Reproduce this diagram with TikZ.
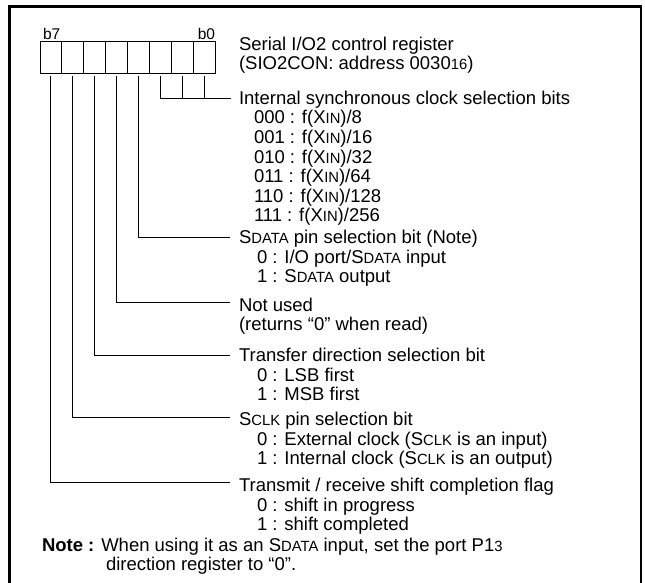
\documentclass[tikz,border=0pt]{standalone}
\usepackage{fontspec}
\setmainfont{Liberation Sans}
\usetikzlibrary{calc}
\newcommand{\sm}[1]{{\fontsize{14.8}{14.8}\selectfont #1}}
\begin{document}
\begin{tikzpicture}[x=1pt,y=-1pt,
  txt/.style={anchor=base west, inner sep=0pt, outer sep=0pt, font=\fontsize{18.5}{19.5}\selectfont},
  bitlbl/.style={inner sep=0pt, outer sep=0pt, font=\fontsize{15.5}{15.5}\selectfont},
  cell/.style={draw, line width=0.9pt, minimum width=21.875pt, minimum height=32pt, inner sep=0pt, outer sep=0pt},
  lead/.style={line width=0.9pt}]
\useasboundingbox (0,0) rectangle (645,583);
\draw[line width=2.6pt] (9.5,600) -- (9.5,6.7) -- (641,6.7) -- (641,600);
% register cells
\foreach \i in {0,...,7} {
  \node[cell] (c\i) at ({40+21.875*(7-\i+0.5)},57) {};
}
\node[bitlbl, anchor=base west] (lb7) at (43,40) {b7};
\node[bitlbl, anchor=base east] (lb0) at (215,40) {b0};
% title
\node[txt] (t1) at (239,50.5) {Serial I/O2 control register};
\node[txt] (t2) at (239,70) {(SIO2CON: address 0030\sm{16})};
% clock selection
\node[txt] (h0) at (239,104.5) {Internal synchronous clock selection bits};
\node[txt] (s01) at (254,124) {000 : f(X\sm{IN})/8};
\node[txt] (s02) at (254,143.5) {001 : f(X\sm{IN})/16};
\node[txt] (s03) at (254,163) {010 : f(X\sm{IN})/32};
\node[txt] (s04) at (254,182.5) {011 : f(X\sm{IN})/64};
\node[txt] (s05) at (254,202) {110 : f(X\sm{IN})/128};
\node[txt] (s06) at (254,221.5) {111 : f(X\sm{IN})/256};
% SDATA
\node[txt] (h3) at (239,243.5) {S\sm{DATA} pin selection bit (Note)};
\node[txt] (s31) at (257,263) {0 : I/O port/S\sm{DATA} input};
\node[txt] (s32) at (257,282.5) {1 : S\sm{DATA} output};
% not used
\node[txt] (h4) at (239,311.5) {Not used};
\node[txt] (s41) at (239,330) {(returns “0” when read)};
% transfer direction
\node[txt] (h5) at (239,361.5) {Transfer direction selection bit};
\node[txt] (s51) at (257,381) {0 : LSB first};
\node[txt] (s52) at (257,400.5) {1 : MSB first};
% SCLK
\node[txt] (h6) at (239,425.5) {S\sm{CLK} pin selection bit};
\node[txt] (s61) at (257,445) {0 : External clock (S\sm{CLK} is an input)};
\node[txt] (s62) at (257,464.5) {1 : Internal clock (S\sm{CLK} is an output)};
% shift flag
\node[txt] (h7) at (239,491.5) {Transmit / receive shift completion flag};
\node[txt] (s71) at (257,511) {0 : shift in progress};
\node[txt] (s72) at (257,530.5) {1 : shift completed};
% note
\node[txt] (n1) at (42,551.5) {{\bfseries Note :} When using it as an S\sm{DATA} input, set the port P1\sm{3}};
\node[txt] (n2) at (106,570) {direction register to “0”.};
% leader end points
\coordinate (e0) at (231,98);
\coordinate (e3) at (230,237);
\coordinate (e4) at (230,302);
\coordinate (e5) at (230,355);
\coordinate (e6) at (230,417);
\coordinate (e7) at (230,482);
% leaders
\draw[lead] ($(c2.south)+(0,3)$) |- (e0);
\draw[lead] ($(c1.south)+(0,3)$) -- (c1.south |- e0);
\draw[lead] ($(c0.south)+(0,3)$) -- (c0.south |- e0);
\foreach \i in {3,...,7} {
  \draw[lead] ($(c\i.south)+(0,3)$) |- (e\i);
}
\end{tikzpicture}
\end{document}
